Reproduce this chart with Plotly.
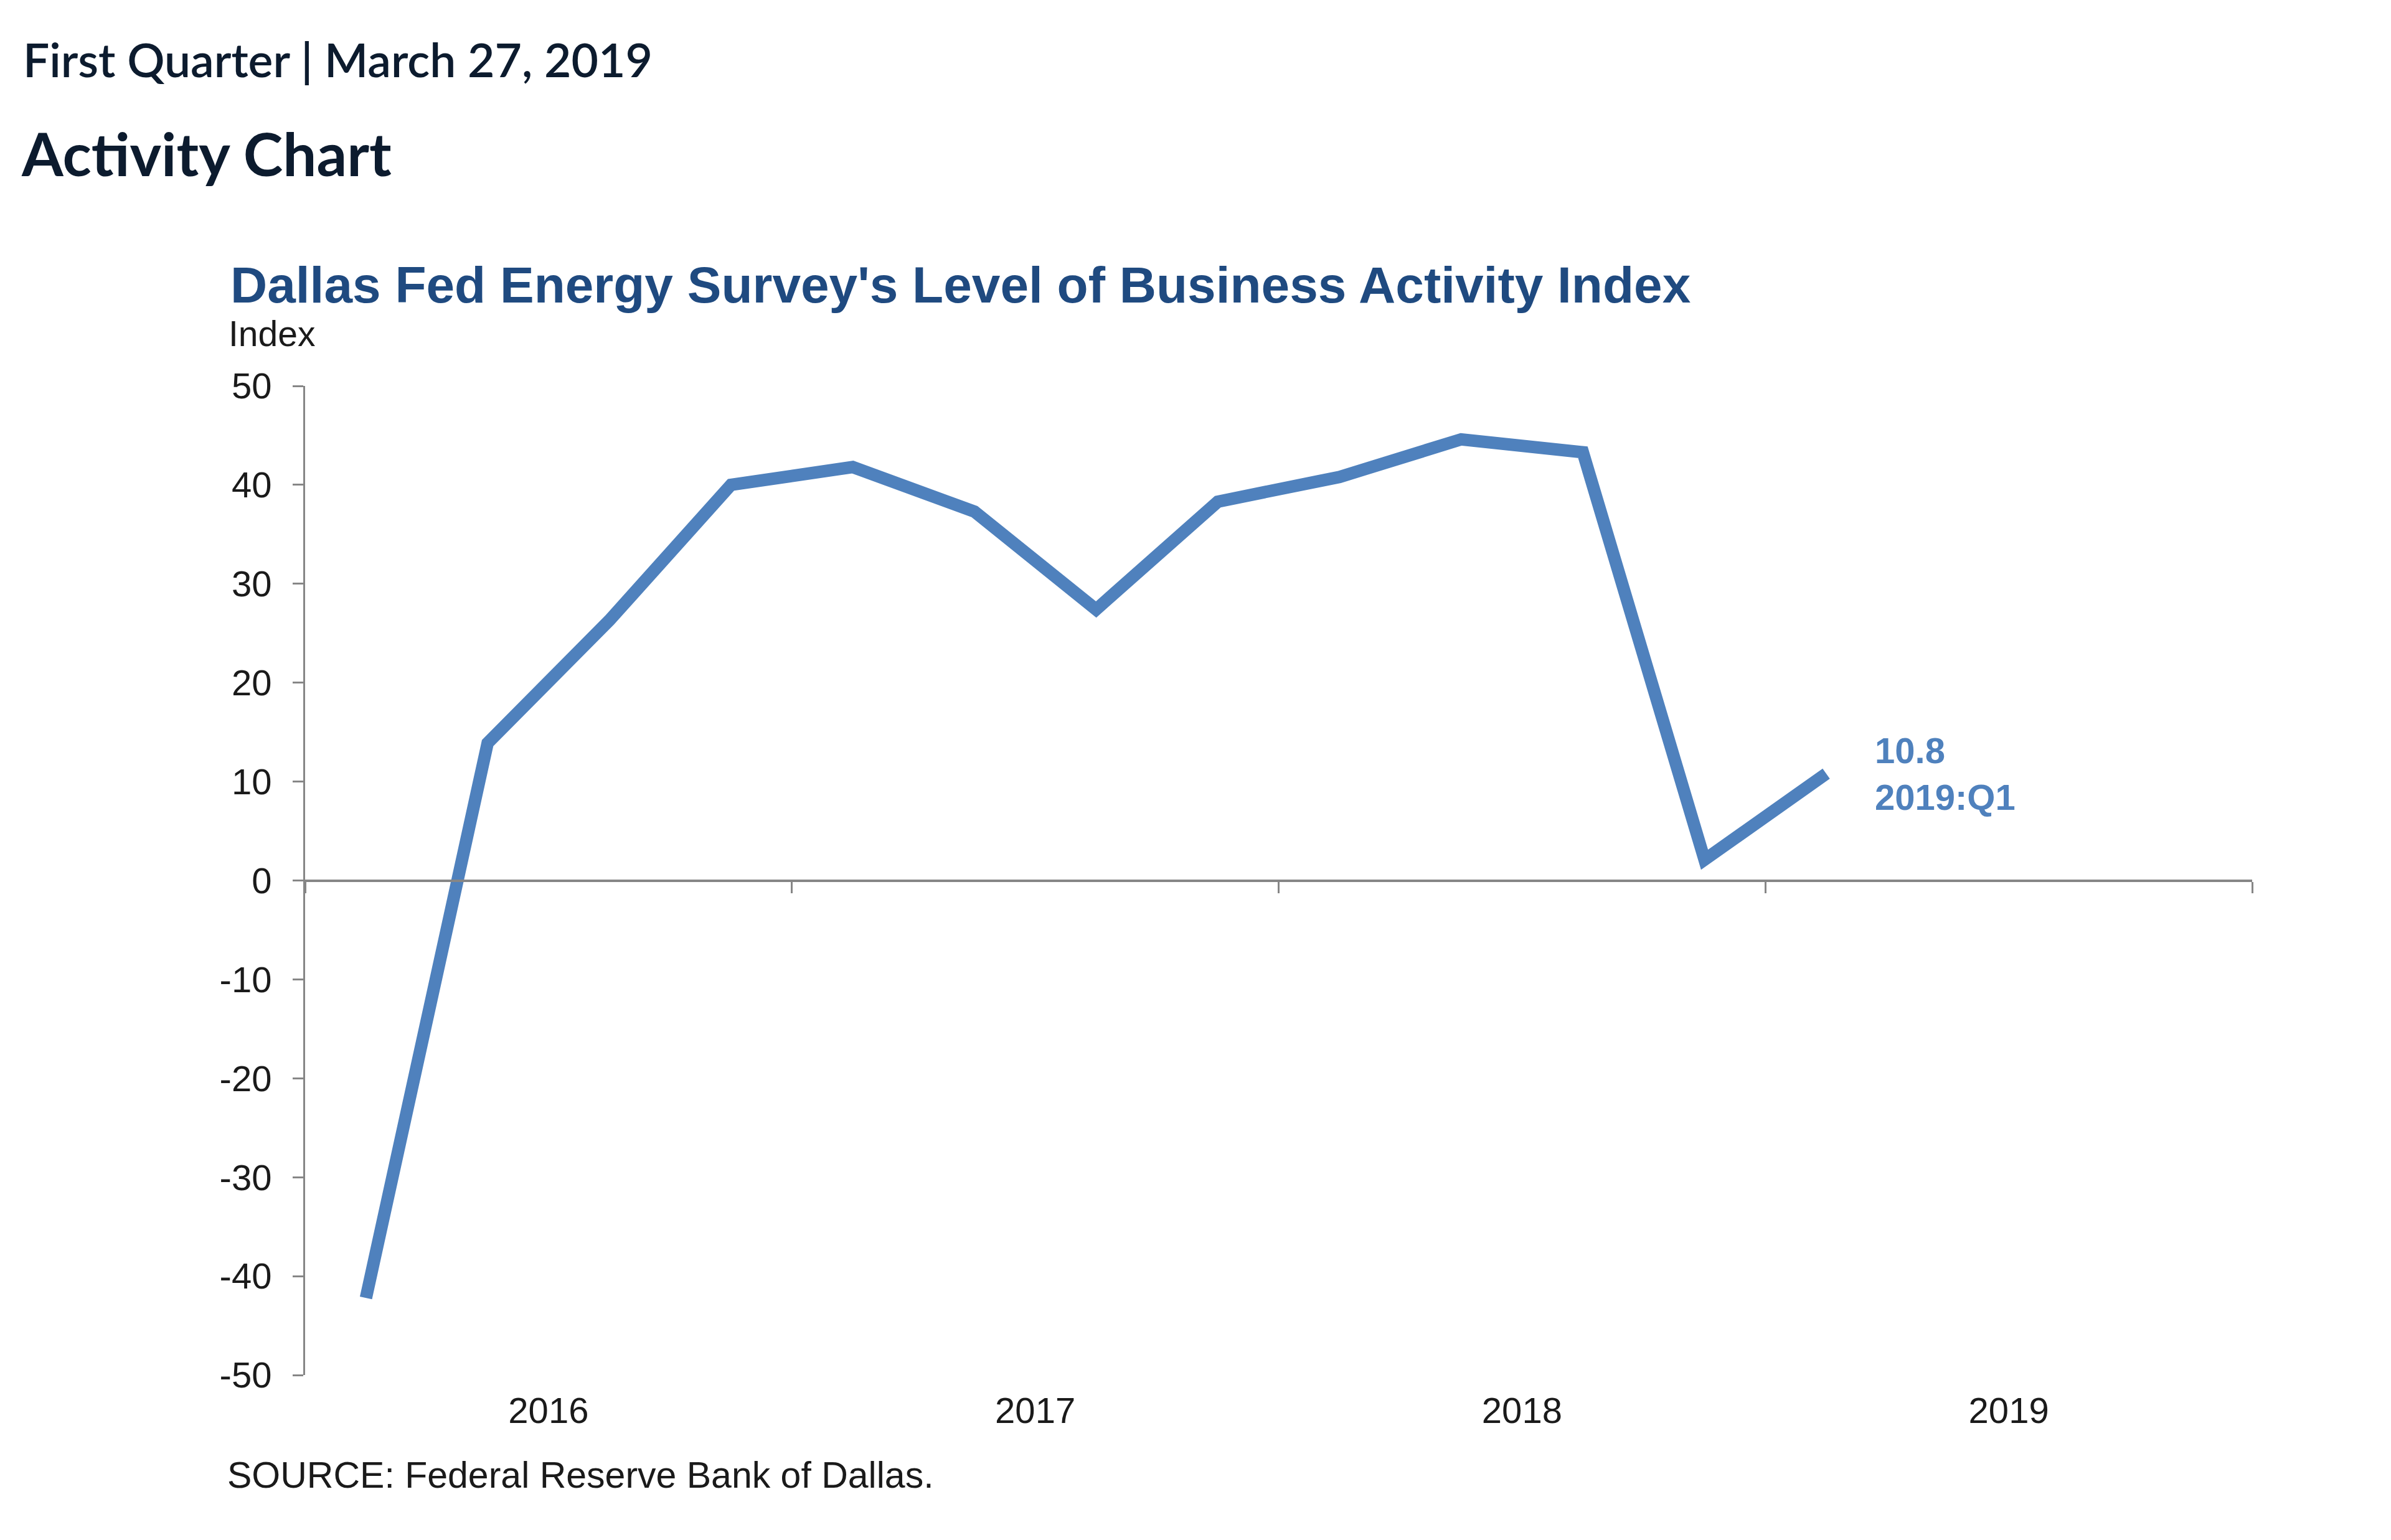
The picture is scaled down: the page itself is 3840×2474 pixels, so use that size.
import plotly.graph_objects as go

# ---- data ----
quarters = ["2016:Q1", "2016:Q2", "2016:Q3", "2016:Q4",
            "2017:Q1", "2017:Q2", "2017:Q3", "2017:Q4",
            "2018:Q1", "2018:Q2", "2018:Q3", "2018:Q4",
            "2019:Q1"]
activity_index = [-42.2, 13.9, 26.3, 40.0,
                  41.8, 37.3, 27.4, 38.3,
                  40.8, 44.6, 43.3, 2.1,
                  10.8]
years = ["2016", "2017", "2018", "2019"]
y_ticks = [-50, -40, -30, -20, -10, 0, 10, 20, 30, 40, 50]

# quarter positions: each year spans 4 units, points at quarter centres
x_pos = [(int(q[:4]) - int(years[0])) * 4 + (int(q[-1]) - 1) + 0.5 for q in quarters]
year_centres = [i * 4 + 2 for i in range(len(years))]
year_bounds = [i * 4 for i in range(len(years) + 1)]

LINE_BLUE = "#4F81BD"
TITLE_BLUE = "#1F4A80"
AXIS_GRAY = "#868686"
ARIAL = "Arial, Liberation Sans, sans-serif"
HEAD = "Lato, Open Sans, sans-serif"

W, H = 3840, 2474
OFF = 8  # page body margin offset
# target plot box in screen px: x 490..3617, y 620..2209
L, T = 490 - OFF, 620 - OFF
R = W + OFF - 3617
B = H + OFF - 2209
PW, PH = W - L - R, H - T - B


def px_x(px):
    return (px - OFF - L) / PW


def px_y(py):
    return (H - B - (py - OFF)) / PH


fig = go.Figure()
fig.add_trace(go.Scatter(
    x=x_pos, y=activity_index, mode="lines",
    line=dict(color=LINE_BLUE, width=20),
    hoverinfo="skip", showlegend=False, xaxis="x", yaxis="y",
))
# invisible copy to carry the zero-line axis with year-boundary ticks
fig.add_trace(go.Scatter(
    x=x_pos, y=activity_index, mode="lines",
    line=dict(color="rgba(0,0,0,0)", width=0),
    hoverinfo="skip", showlegend=False, xaxis="x2", yaxis="y",
))

fig.update_layout(
    width=W, height=H,
    margin=dict(l=L, r=R, t=T, b=B),
    paper_bgcolor="white", plot_bgcolor="white",
    showlegend=False,
    xaxis=dict(
        range=[year_bounds[0], year_bounds[-1]],
        tickmode="array", tickvals=year_centres, ticktext=years,
        ticks="", showline=False, showgrid=False, zeroline=False,
        tickfont=dict(family=ARIAL, size=58, color="#1a1a1a"),
        ticklabelstandoff=18,
    ),
    xaxis2=dict(
        range=[year_bounds[0], year_bounds[-1]],
        overlaying="x", anchor="free", position=0.5,
        tickmode="array", tickvals=year_bounds,
        ticks="outside", ticklen=18, tickwidth=3, tickcolor=AXIS_GRAY,
        showticklabels=False,
        showline=True, linecolor=AXIS_GRAY, linewidth=4,
        showgrid=False, zeroline=False,
    ),
    yaxis=dict(
        range=[y_ticks[0], y_ticks[-1]],
        tickmode="array", tickvals=y_ticks, ticktext=[str(v) for v in y_ticks],
        ticks="outside", ticklen=17, tickwidth=3, tickcolor=AXIS_GRAY,
        showline=True, linecolor=AXIS_GRAY, linewidth=3,
        showgrid=False, zeroline=False,
        tickfont=dict(family=ARIAL, size=58, color="#1a1a1a"),
        ticklabelstandoff=22,
    ),
)

annotations = [
    dict(text="First Quarter | March 27, 2019", x=px_x(35), y=px_y(95),
         font=dict(family=HEAD, size=75, color="#0C1B2E", weight=600)),
    dict(text="Activity Chart", x=px_x(32), y=px_y(245),
         font=dict(family=HEAD, size=96, color="#0C1B2E", weight="bold")),
    dict(text="Dallas Fed Energy Survey's Level of Business Activity Index",
         x=px_x(368), y=px_y(457),
         font=dict(family=ARIAL, size=82, color=TITLE_BLUE, weight="bold")),
    dict(text="Index", x=px_x(365), y=px_y(536),
         font=dict(family=ARIAL, size=57, color="#1a1a1a")),
    dict(text="SOURCE: Federal Reserve Bank of Dallas.", x=px_x(363), y=px_y(2370),
         font=dict(family=ARIAL, size=59, color="#1a1a1a")),
]
for a in annotations:
    fig.add_annotation(xref="paper", yref="paper", xanchor="left", yanchor="middle",
                       showarrow=False, **a)

fig.add_annotation(
    x=x_pos[-1], y=activity_index[-1], xref="x", yref="y",
    text=f"{activity_index[-1]}<br>{quarters[-1]}",
    xanchor="left", yanchor="middle", xshift=76, showarrow=False, align="left",
    font=dict(family=ARIAL, size=58, color=LINE_BLUE, weight="bold"),
)

fig.write_html("out.html")
